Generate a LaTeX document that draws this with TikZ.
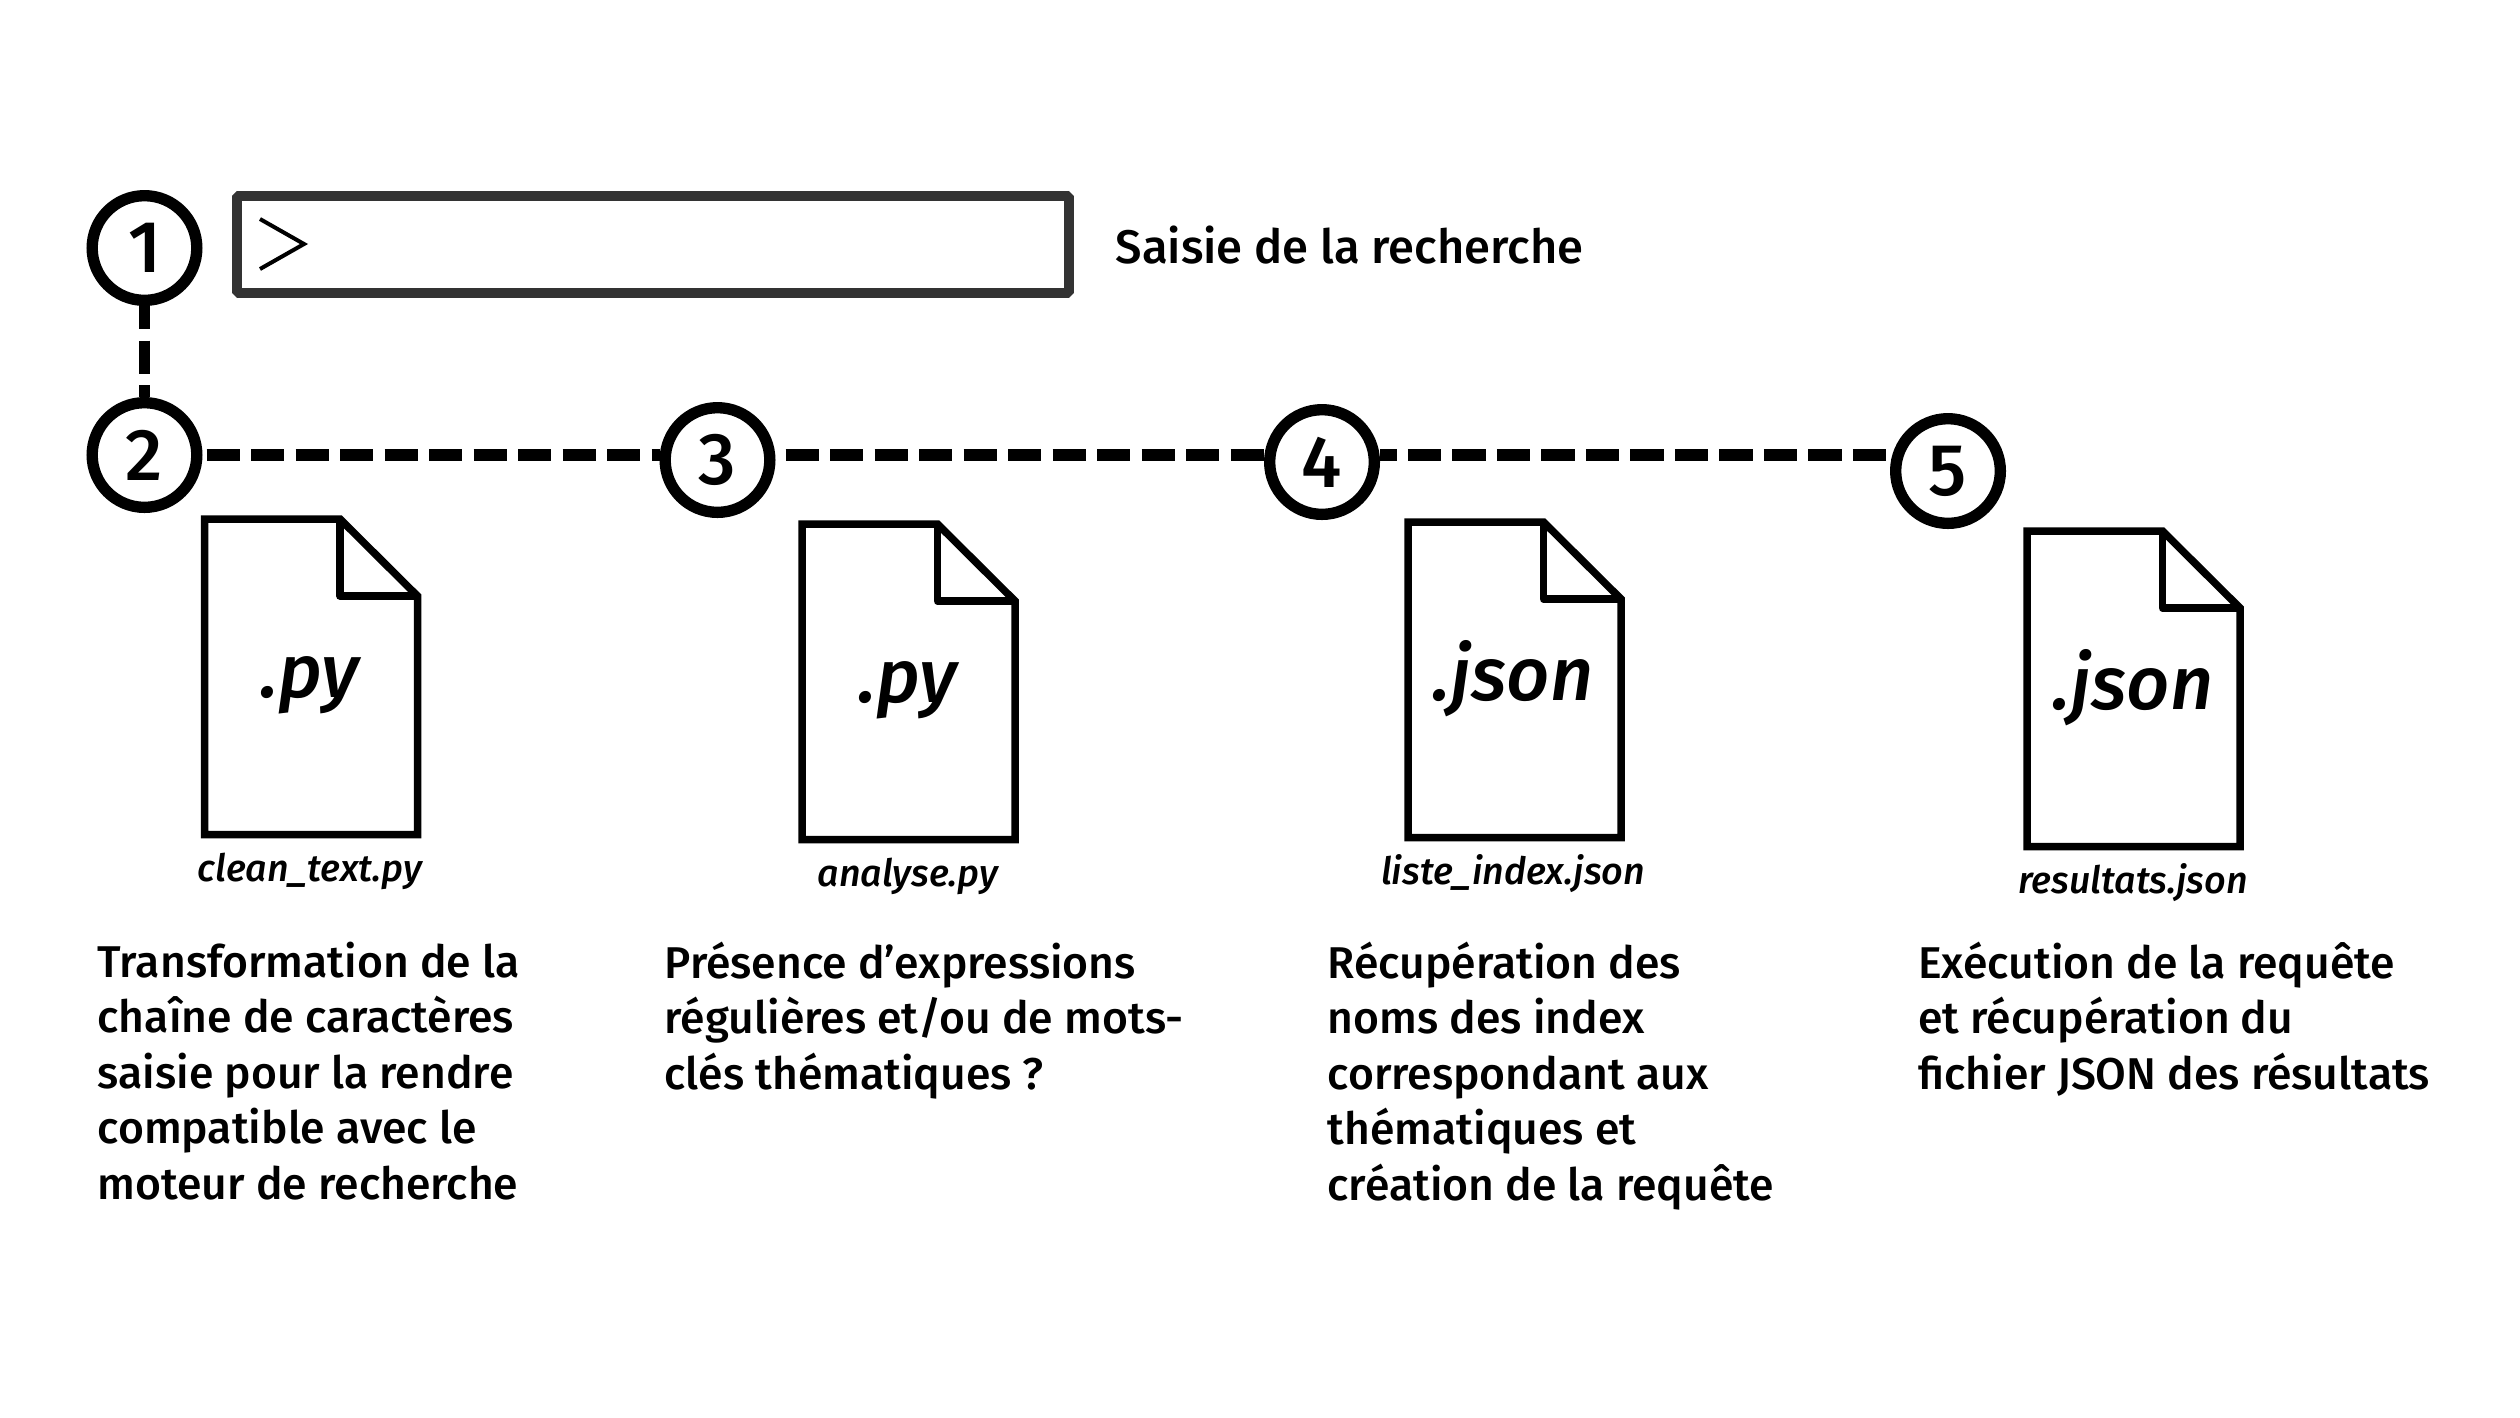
\documentclass[tikz,border=0pt]{standalone}
\usepackage{fontspec}
\setmainfont{Fira Sans Medium}[ItalicFont={Fira Sans Medium Italic}]
\definecolor{boxgray}{HTML}{333333}
\tikzset{
  stepcircle/.style={circle, draw=black, fill=white, line width=3.4pt, minimum size=31.4pt, inner sep=0, outer sep=0.5\pgflinewidth, font=\fontsize{22}{22}\selectfont},
  dashline/.style={black, line width=3.4pt, dash pattern=on 10pt off 3.35pt},
  bodytext/.style={anchor=north west, align=left, inner sep=0, font=\fontsize{13.35}{16.65}\selectfont},
  extlabel/.style={anchor=base, inner sep=0, font=\fontsize{22.6}{24}\selectfont\itshape},
  filelabel/.style={anchor=base, inner sep=0, font=\fontsize{11.3}{12}\selectfont\itshape},
  docfile/.pic={
    \draw[black, line width=2.25pt, line join=miter] (0,0) -- (135.5,0) -- (213,77) -- (213,315.5) -- (0,315.5) -- cycle;
    \draw[black, line width=2.25pt, line join=round] (135.5,0) -- (135.5,77) -- (213,77);
  }
}
\begin{document}
\begin{tikzpicture}[x=0.3pt, y=-0.3pt]
  \useasboundingbox (0,0) rectangle (2520,1417);
  \node[stepcircle] (c1) at (144.5,248) {1};
  \node[stepcircle] (c2) at (144.5,455) {2};
  \node[stepcircle] (c3) at (717.5,460) {3};
  \node[stepcircle] (c4) at (1322,462) {4};
  \node[stepcircle] (c5) at (1948,471) {5};
  % search box
  \node[draw=boxgray, line width=3.1pt, line join=bevel, minimum width=832*0.3pt, minimum height=97*0.3pt, inner sep=0, outer sep=0] (searchbox) at (653,244.5) {};
  \coordinate (chevtop) at (260,219);
  \coordinate (chevtip) at (304,244);
  \coordinate (chevbot) at (260,269);
  \draw[black, line width=1.2pt] (chevtop) -- (chevtip) -- (chevbot);
  \node[anchor=west, inner sep=0, font=\fontsize{14.15}{14}\selectfont] (searchlabel) at (1115,245) {Saisie de la recherche};
  % connectors
  \draw[dashline, dash phase=3pt] (c1.south) -- (c2.north);
  \draw[dashline, shorten <=1.2pt] (c2.east) -- (c2.east -| c3.west);
  \draw[dashline, shorten <=3pt] (c3.east |- c2) -- (c2 -| c4.west);
  \draw[dashline, dash phase=5pt] (c4.east |- c2) -- (c2 -| c5.west);
  % files
  \pic at (204.5,519) {docfile};
  \pic at (802,524) {docfile};
  \pic at (1408,522) {docfile};
  \pic at (2027,531) {docfile};
  \node[extlabel] (ext1) at (310,697) {.py};
  \node[extlabel] (ext2) at (908,702) {.py};
  \node[extlabel] (ext3) at (1513,700) {.json};
  \node[extlabel] (ext4) at (2133,709) {.json};
  \node[filelabel] (name1) at (310,881) {clean\_text.py};
  \node[filelabel] (name2) at (908,886) {analyse.py};
  \node[filelabel] (name3) at (1513,884) {liste\_index.json};
  \node[filelabel] (name4) at (2133,893) {resultats.json};
  % descriptions
  \node[bodytext] (text1) at (97,941) {Transformation de la\\chaîne de caractères\\saisie pour la rendre\\compatible avec le\\moteur de recherche};
  \node[bodytext] (text2) at (664,941) {Présence d’expressions\\régulières et/ou de mots-\\clés thématiques ?};
  \node[bodytext] (text3) at (1327,941) {Récupération des\\noms des index\\correspondant aux\\thématiques et\\création de la requête};
  \node[bodytext] (text4) at (1917.5,941) {Exécution de la requête\\et récupération du\\fichier JSON des résultats};
\end{tikzpicture}
\end{document}
